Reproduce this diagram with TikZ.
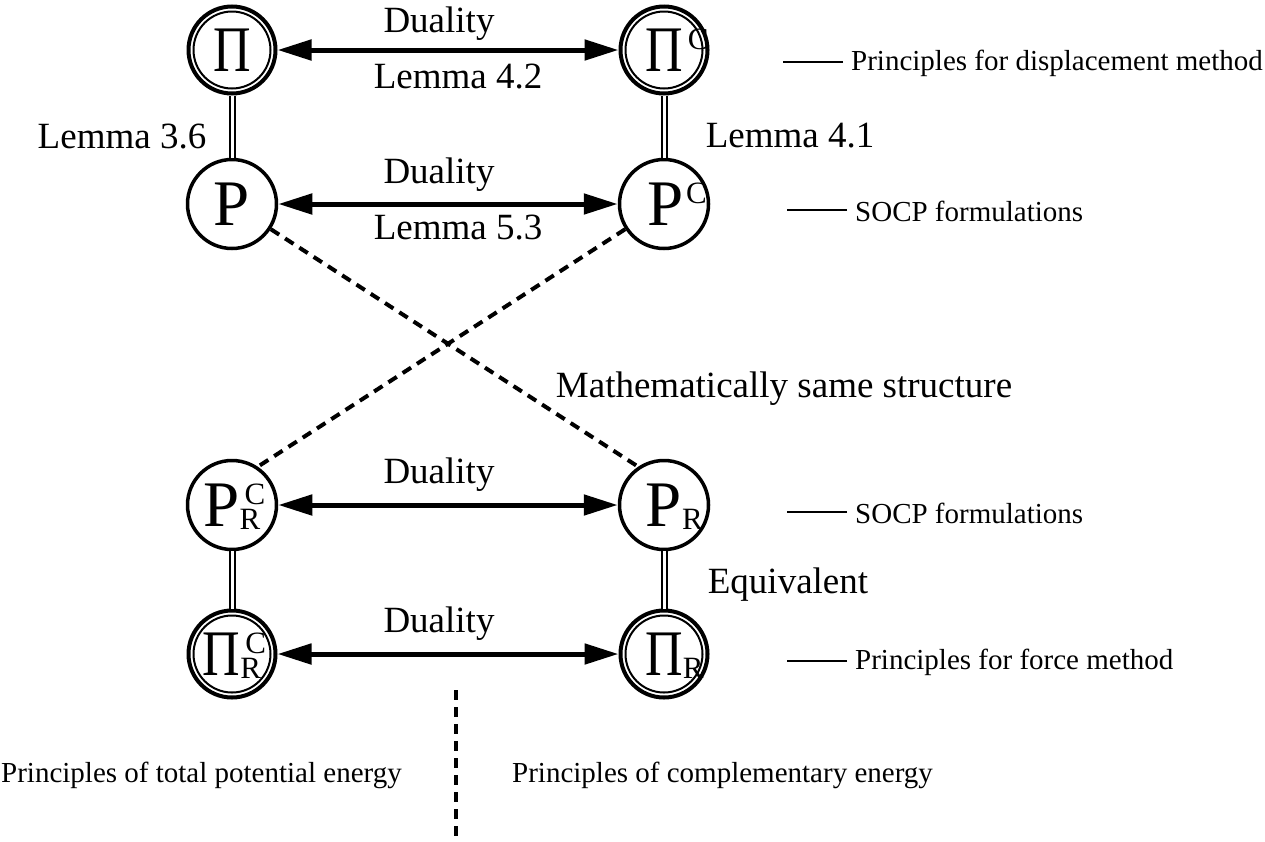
\documentclass[tikz,border=0pt]{standalone}
\usepackage{fontspec}
\usepackage{graphicx}
\setmainfont{Liberation Serif}
\usetikzlibrary{arrows.meta}
\newcommand\myscr{\fontsize{31}{31}\selectfont}
\newcommand\mysup[1]{\rlap{\smash{\raisebox{22pt}{\myscr #1}}}}
\newcommand\mysub[1]{\rlap{\smash{\raisebox{-3pt}{\myscr #1}}}}
\newcommand\mysubb[1]{\smash{\raisebox{-3pt}{\myscr #1}}}
\newcommand\myPi{\scalebox{0.8}[1]{Π}}
\begin{document}
\begin{tikzpicture}[x=1pt,y=-1pt,
  st/.style={circle, draw, line width=3.5pt, minimum size=89pt, inner sep=0pt, font=\fontsize{65}{65}\selectfont},
  dbl/.style={st, line width=4pt, minimum size=87pt},
  lab/.style={font=\fontsize{37}{40}\selectfont, inner sep=0pt},
  sm/.style={font=\fontsize{29}{32}\selectfont, inner sep=0pt, anchor=west},
  arr/.style={{Triangle[length=34pt,width=20pt]}-{Triangle[length=34pt,width=20pt]}, line width=5pt},
  eqv/.style={double, line width=2pt, double distance=3pt},
  dsh/.style={line width=4pt, dash pattern=on 10pt off 7pt},
  tickline/.style={line width=2pt}]
\useasboundingbox (0,0) rectangle (1265,841);
% nodes
\node[dbl] (Pi)   at (232,50)  {\myPi};
\node[dbl] (PiC)  at (664,50)  {\myPi\mysup{\hspace{5pt}C}};
\node[st]  (P)    at (232,204) {P};
\node[st]  (PC)   at (664,204) {\hspace{4pt}P\mysup{\hspace{2pt}C}};
\node[st]  (PRC)  at (232,505) {P\rlap{\smash{\raisebox{22pt}{\myscr\hspace{5pt}C}}}\mysubb{R}};
\node[st]  (PR)   at (664,505) {P\mysub{R}};
\node[dbl] (PiRC) at (232,654) {\myPi\rlap{\smash{\raisebox{22pt}{\myscr\hspace{5pt}C}}}\mysubb{R}};
\node[dbl] (PiR)  at (664,654) {\myPi\mysub{R}};
\foreach \n in {Pi,PiC,PiRC,PiR}{\draw[line width=2pt] (\n.center) circle[radius=38.5];}
% connectors
\draw[arr] (Pi) -- (PiC);
\draw[arr] (P) -- (PC);
\draw[arr] (PRC) -- (PR);
\draw[arr] (PiRC) -- (PiR);
\draw[eqv] (Pi) -- (P);
\draw[eqv] (PiC) -- (PC);
\draw[eqv] (PRC) -- (PiRC);
\draw[eqv] (PR) -- (PiR);
\draw[dsh] (P.-33) -- (PR.124);
\draw[dsh] (PC.213) -- (PRC.56);
\coordinate (vtop) at (456,690);
\coordinate (vbot) at (456,841);
\draw[dsh] (vtop) -- (vbot);
% labels
\node[lab] (d1) at (439,24)  {Duality};
\node[lab] (l42) at (458,77) {Lemma 4.2};
\node[lab] (l36) at (122,137) {Lemma 3.6};
\node[lab] (l41) at (790,136) {Lemma 4.1};
\node[lab] (d2) at (439,175) {Duality};
\node[lab] (l53) at (458,228) {Lemma 5.3};
\node[lab] (ms) at (784,389) {Mathematically same structure};
\node[lab] (d3) at (439,475) {Duality};
\node[lab] (eq) at (788,585) {Equivalent};
\node[lab] (d4) at (439,624) {Duality};
\node[sm] (s1) at (851,63)  {Principles for displacement method};
\node[sm] (s2) at (855,211) {SOCP formulations};
\node[sm] (s3) at (855,513) {SOCP formulations};
\node[sm] (s4) at (855,662) {Principles for force method};
\node[sm] (b1) at (1,775) {Principles of total potential energy};
\node[sm] (b2) at (512,775) {Principles of complementary energy};
\foreach \n in {s1,s2,s3,s4}{\draw[tickline] ([xshift=-8pt,yshift=1pt]\n.west) -- ++(-60,0);}
\end{tikzpicture}
\end{document}
